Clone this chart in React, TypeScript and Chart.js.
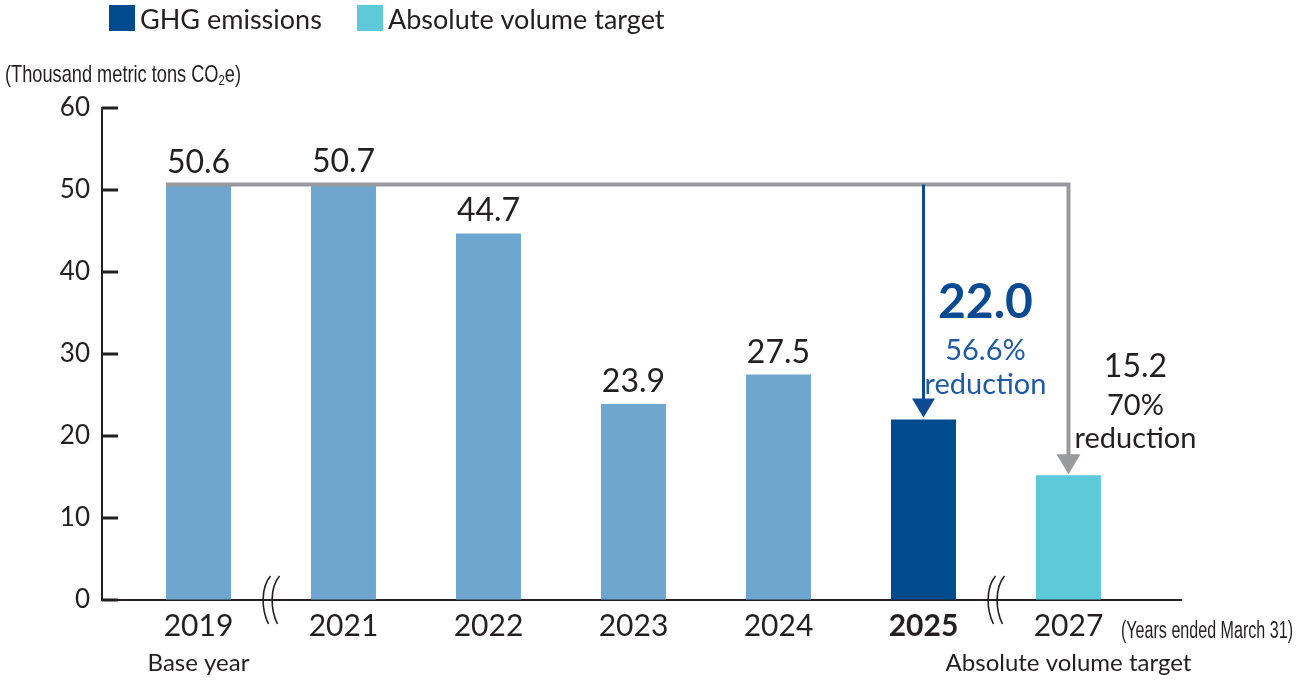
import React, { useEffect, useRef } from "react";
import { Chart, registerables } from "chart.js";

Chart.register(...registerables);

const years = ["2019", "2021", "2022", "2023", "2024", "2025", "2027"];
const subLabels = ["Base year", "", "", "", "", "", "Absolute volume target"];
const emissions = [50.6, 50.7, 44.7, 23.9, 27.5, 22.0, 15.2];
const barKinds = ["past", "past", "past", "past", "past", "current", "target"];
const yTicks = [0, 10, 20, 30, 40, 50, 60];
const legendItems = ["GHG emissions", "Absolute volume target"];
const currentNote = ["56.6%", "reduction"];
const targetNote = ["70%", "reduction"];

const COLORS: Record<string, string> = {
  past: "#6fa6cf",
  current: "#004a8e",
  target: "#5ecad9",
};
const TEXT = "#231f20";
const GRAY = "#999a9e";
const BLUE_LINE = "#0d4a93";
const BLUE_TEXT = "#1f5aa6";
const SANS = 'Lato, "Open Sans", sans-serif';
const NARROW = '"Liberation Sans", Arial, sans-serif';

function drawNarrow(
  ctx: CanvasRenderingContext2D,
  parts: { t: string; size: number; dy: number }[],
  x: number,
  y: number,
  targetWidth: number
) {
  let natural = 0;
  parts.forEach((p) => {
    ctx.font = `${p.size}px ${NARROW}`;
    natural += ctx.measureText(p.t).width;
  });
  const sx = targetWidth / natural;
  ctx.save();
  ctx.translate(x, y);
  ctx.scale(sx, 1);
  ctx.textAlign = "left";
  let cx = 0;
  parts.forEach((p) => {
    ctx.font = `${p.size}px ${NARROW}`;
    ctx.fillText(p.t, cx, p.dy);
    cx += ctx.measureText(p.t).width;
  });
  ctx.restore();
}

const decor = {
  id: "decor",
  afterDraw(chart: any) {
    const ctx = chart.ctx as CanvasRenderingContext2D;
    const xs = chart.scales.x;
    const ys = chart.scales.y;
    const area = chart.chartArea;
    const bars = chart.getDatasetMeta(0).data;
    ctx.save();

    // legend
    const legendColors = [COLORS.current, COLORS.target];
    const legendX = [109, 357];
    ctx.font = `27px ${SANS}`;
    ctx.textBaseline = "alphabetic";
    ctx.textAlign = "left";
    legendItems.forEach((t, i) => {
      ctx.fillStyle = legendColors[i];
      ctx.fillRect(legendX[i], 5, 26, 26);
      ctx.fillStyle = TEXT;
      ctx.fillText(t, legendX[i] + 31, 29);
    });

    // unit label
    ctx.fillStyle = TEXT;
    drawNarrow(
      ctx,
      [
        { t: "(Thousand metric tons CO", size: 24, dy: 0 },
        { t: "2", size: 15, dy: 3 },
        { t: "e)", size: 24, dy: 0 },
      ],
      5,
      82,
      236
    );

    // inward y ticks
    ctx.strokeStyle = TEXT;
    ctx.lineWidth = 3;
    yTicks.forEach((v) => {
      const y = ys.getPixelForValue(v);
      ctx.beginPath();
      ctx.moveTo(area.left, y);
      ctx.lineTo(area.left + 16, y);
      ctx.stroke();
    });

    // axis breaks
    ctx.lineWidth = 1.6;
    [0.5, 5.5].forEach((v) => {
      const cx = xs.getPixelForValue(v);
      [-4.5, 4.5].forEach((d) => {
        const x = cx + d;
        ctx.beginPath();
        ctx.moveTo(x + 4, area.bottom - 24);
        ctx.bezierCurveTo(x - 6, area.bottom - 12, x - 5, area.bottom + 10, x + 2, area.bottom + 24);
        ctx.stroke();
      });
    });

    // value labels above past bars
    ctx.fillStyle = TEXT;
    ctx.font = `32px ${SANS}`;
    ctx.textAlign = "center";
    for (let i = 0; i < 5; i++) {
      const b = bars[i];
      ctx.fillText(emissions[i].toFixed(1), b.x, b.y - 12);
    }

    // connectors
    const baseY = ys.getPixelForValue(emissions[0]) - 0.5;
    const b0 = bars[0];
    const bCur = bars[5];
    const bTgt = bars[6];
    ctx.strokeStyle = GRAY;
    ctx.lineWidth = 4;
    ctx.beginPath();
    ctx.moveTo(b0.x - b0.width / 2, baseY);
    ctx.lineTo(bTgt.x, baseY);
    ctx.lineTo(bTgt.x, bTgt.y - 20);
    ctx.stroke();
    ctx.fillStyle = GRAY;
    ctx.beginPath();
    ctx.moveTo(bTgt.x - 12, bTgt.y - 21);
    ctx.lineTo(bTgt.x + 12, bTgt.y - 21);
    ctx.lineTo(bTgt.x, bTgt.y - 1);
    ctx.closePath();
    ctx.fill();

    ctx.strokeStyle = BLUE_LINE;
    ctx.lineWidth = 3;
    ctx.beginPath();
    ctx.moveTo(bCur.x, baseY);
    ctx.lineTo(bCur.x, bCur.y - 19);
    ctx.stroke();
    ctx.fillStyle = BLUE_LINE;
    ctx.beginPath();
    ctx.moveTo(bCur.x - 11.5, bCur.y - 21);
    ctx.lineTo(bCur.x + 11.5, bCur.y - 21);
    ctx.lineTo(bCur.x, bCur.y - 2);
    ctx.closePath();
    ctx.fill();

    // 2025 annotation
    const curX = bCur.x + 62;
    ctx.fillStyle = "#0a4a92";
    ctx.font = `bold 48px ${SANS}`;
    ctx.fillText(emissions[5].toFixed(1), curX, 318);
    ctx.fillStyle = BLUE_TEXT;
    ctx.font = `29px ${SANS}`;
    ctx.fillText(currentNote[0], curX, 360);
    ctx.fillText(currentNote[1], curX, 394);

    // 2027 annotation
    const tgtX = bTgt.x + 67;
    ctx.fillStyle = TEXT;
    ctx.font = `32px ${SANS}`;
    ctx.fillText(emissions[6].toFixed(1), tgtX, 377);
    ctx.font = `29px ${SANS}`;
    ctx.fillText(targetNote[0], tgtX, 415);
    ctx.fillText(targetNote[1], tgtX, 448);

    // sub labels under years
    ctx.font = `24px ${SANS}`;
    subLabels.forEach((s, i) => {
      if (!s) return;
      ctx.fillText(s, xs.getPixelForValue(i), 671);
    });

    // years note
    drawNarrow(ctx, [{ t: "(Years ended March 31)", size: 23, dy: 0 }], 1121, 638, 172);

    ctx.restore();
  },
};

export default function App() {
  const ref = useRef<HTMLCanvasElement | null>(null);

  useEffect(() => {
    if (!ref.current) return;
    const chart = new Chart(ref.current, {
      type: "bar",
      data: {
        datasets: [
          {
            data: emissions.map((v, i) => ({ x: i, y: v })),
            backgroundColor: barKinds.map((k) => COLORS[k]),
            categoryPercentage: 1,
            barPercentage: 0.448,
          } as any,
        ],
      },
      options: {
        animation: false,
        responsive: false,
        devicePixelRatio: 1,
        layout: { padding: { left: 0, right: 119, top: 108, bottom: 0 } },
        plugins: {
          legend: { display: false },
          tooltip: { enabled: false },
        },
        scales: {
          x: {
            type: "linear",
            offset: false,
            min: -0.6655,
            max: 6.776,
            afterBuildTicks: (s: any) => {
              s.ticks = years.map((_, i) => ({ value: i }));
            },
            afterFit: (s: any) => {
              s.height = 80;
            },
            grid: { drawOnChartArea: false, drawTicks: false, offset: false },
            border: { display: true, color: TEXT, width: 2 },
            ticks: {
              autoSkip: false,
              maxRotation: 0,
              padding: 8,
              color: TEXT,
              callback: (v: any) => years[v as number] ?? "",
              font: (c: any) => ({
                family: SANS,
                size: 30,
                weight: c.tick && c.tick.value === 5 ? "bold" : "normal",
              }),
            },
          },
          y: {
            min: 0,
            max: 60,
            afterFit: (s: any) => {
              s.width = 102;
            },
            afterBuildTicks: (s: any) => {
              s.ticks = yTicks.map((v) => ({ value: v }));
            },
            grid: { drawOnChartArea: false, drawTicks: false },
            border: { display: true, color: TEXT, width: 2 },
            ticks: {
              padding: 12,
              color: TEXT,
              font: { family: SANS, size: 26 },
            },
          },
        },
      },
      plugins: [decor],
    });
    return () => chart.destroy();
  }, []);

  return (
    <div style={{ position: "absolute", left: 0, top: 0, width: 1300, height: 680, background: "#fff" }}>
      <canvas ref={ref} width={1300} height={680} style={{ width: 1300, height: 680 }} />
    </div>
  );
}
